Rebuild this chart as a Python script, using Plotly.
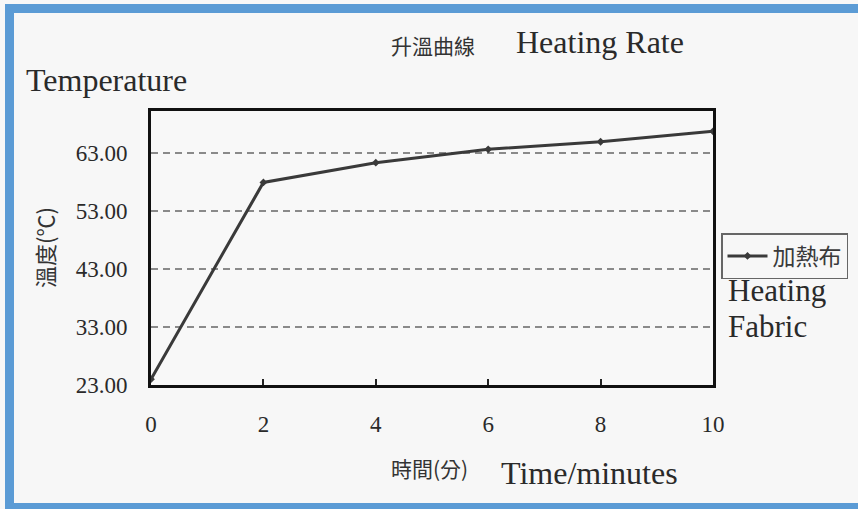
import plotly.graph_objects as go

# Heating fabric temperature readings
minutes = [0, 2, 4, 6, 8, 10]
temperature = [24.0, 57.9, 61.3, 63.6, 64.9, 66.7]

y_tick_vals = [23, 33, 43, 53, 63]
y_tick_text = ["23.00", "33.00", "43.00", "53.00", "63.00"]
x_tick_vals = [0, 2, 4, 6, 8, 10]
x_tick_text = ["0", "2", "4", "6", "8", "10"]

W, H = 858, 509
L, R, T, B = 151, 713, 111, 385  # plot box in pixels


def px(x):
    return (x - L) / (R - L)


def py(y):
    return (B - y) / (B - T)


SERIF = "Liberation Serif, Times New Roman, serif"
CJK = "Noto Sans CJK TC, Noto Sans CJK SC, sans-serif"
INK = "#2a2a2a"

fig = go.Figure()
fig.add_trace(go.Scatter(
    x=minutes, y=temperature, mode="lines+markers", name="加熱布",
    line=dict(color="#3a3a3a", width=3),
    marker=dict(color="#3a3a3a", size=6, symbol="diamond"),
))

fig.update_layout(
    width=W, height=H,
    margin=dict(l=L, r=W - R, t=T, b=H - B, pad=0, autoexpand=False),
    paper_bgcolor="#f7f7f7",
    plot_bgcolor="#f8f8f8",
    showlegend=True,
    legend=dict(
        x=px(721), y=py(233), xanchor="left", yanchor="top",
        bgcolor="rgba(0,0,0,0)", bordercolor="#666", borderwidth=1.5,
        font=dict(family=CJK, size=23, color="#3a3a3a"),
        itemwidth=40, tracegroupgap=0,
    ),
    xaxis=dict(
        range=[0, 10], tickvals=x_tick_vals, ticktext=x_tick_text,
        ticks="inside", ticklen=6, tickwidth=1.5, tickcolor="#222",
        showgrid=False, zeroline=False,
        showline=True, mirror=True, linecolor="#111", linewidth=3,
        tickfont=dict(family=SERIF, size=23, color=INK),
        ticklabelstandoff=16,
    ),
    yaxis=dict(
        range=[23, 70.2], tickvals=y_tick_vals, ticktext=y_tick_text,
        ticks="", showgrid=True, gridcolor="#8a8a8a", gridwidth=1.5,
        griddash="7px,5px", zeroline=False,
        showline=True, mirror=True, linecolor="#111", linewidth=3,
        tickfont=dict(family=SERIF, size=23, color=INK),
        ticklabelstandoff=16,
    ),
)

# Frame of the scanned page
blue = "#5b9bd5"
fig.add_shape(type="rect", xref="paper", yref="paper",
              x0=px(5), x1=px(14), y0=py(509), y1=py(4),
              fillcolor=blue, line=dict(width=0), layer="above")
fig.add_shape(type="rect", xref="paper", yref="paper",
              x0=px(5), x1=px(858), y0=py(13), y1=py(4),
              fillcolor=blue, line=dict(width=0), layer="above")
fig.add_shape(type="rect", xref="paper", yref="paper",
              x0=px(5), x1=px(858), y0=py(509), y1=py(503),
              fillcolor=blue, line=dict(width=0), layer="above")


def note(text, x, y, family, size, anchor="left", color=INK, angle=0):
    fig.add_annotation(text=text, xref="paper", yref="paper",
                       x=px(x), y=py(y), xanchor=anchor, yanchor="middle",
                       showarrow=False, textangle=angle,
                       font=dict(family=family, size=size, color=color))


note("升溫曲線", 389, 45, CJK, 21, color="#333")
note("Heating Rate", 514, 42, SERIF, 32)
note("Temperature", 24, 80, SERIF, 32)
note("溫度(℃)", 44, 248, CJK, 22, anchor="center", color="#333", angle=-90)
note("時間(分)", 389, 468, CJK, 21, color="#333")
note("Time/minutes", 499, 473, SERIF, 32)
note("Heating", 726, 290, SERIF, 31)
note("Fabric", 726, 326, SERIF, 31)

fig.write_html("out.html")
